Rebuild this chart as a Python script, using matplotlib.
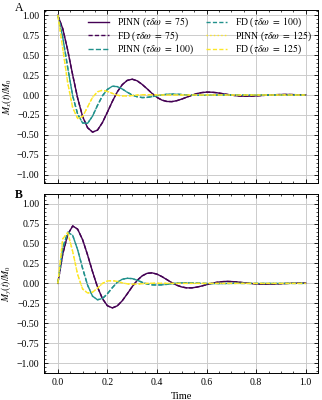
import matplotlib
matplotlib.use("Agg")
import matplotlib.pyplot as plt
from matplotlib.ticker import MultipleLocator

plt.rcParams['font.family'] = ['Liberation Serif', 'DejaVu Serif']
plt.rcParams['mathtext.fontset'] = 'stix'

t = [0.00, 0.02, 0.04, 0.06, 0.08, 0.10, 0.12, 0.14, 0.16, 0.18,
     0.20, 0.22, 0.24, 0.26, 0.28, 0.30, 0.32, 0.34, 0.36, 0.38,
     0.40, 0.42, 0.44, 0.46, 0.48, 0.50, 0.52, 0.54, 0.56, 0.58,
     0.60, 0.62, 0.64, 0.66, 0.68, 0.70, 0.72, 0.74, 0.76, 0.78,
     0.80, 0.82, 0.84, 0.86, 0.88, 0.90, 0.92, 0.94, 0.96, 0.98, 1.00]

# panel A : Mx(t)/M0
mx_75 = [1.000, 0.830, 0.560, 0.250, -0.040, -0.270, -0.410, -0.465, -0.440, -0.345,
         -0.215, -0.080, 0.040, 0.130, 0.183, 0.198, 0.178, 0.133, 0.078, 0.020,
         -0.030, -0.064, -0.081, -0.083, -0.071, -0.051, -0.027, -0.004, 0.017, 0.030,
         0.036, 0.035, 0.029, 0.019, 0.009, -0.001, -0.009, -0.014, -0.015, -0.014,
         -0.011, -0.007, -0.003, 0.001, 0.004, 0.006, 0.007, 0.006, 0.004, 0.003, 0.001]
mx_100 = [1.000, 0.720, 0.340, -0.010, -0.240, -0.350, -0.355, -0.265, -0.130, -0.010,
          0.070, 0.110, 0.105, 0.075, 0.035, 0.000, -0.022, -0.032, -0.030, -0.021,
          -0.009, 0.002, 0.009, 0.011, 0.010, 0.006, 0.002, -0.001, -0.003, -0.003,
          -0.002, -0.001, 0.000, 0.001, 0.001, 0.001, 0.000, 0.000, 0.000, 0.000,
          0.000, 0.000, 0.000, 0.000, 0.000, 0.000, 0.000, 0.000, 0.000, 0.000, 0.000]
mx_125 = [1.000, 0.580, 0.150, -0.160, -0.295, -0.270, -0.150, -0.030, 0.040, 0.060,
          0.045, 0.020, -0.003, -0.012, -0.012, -0.007, -0.001, 0.003, 0.004, 0.003,
          0.001, 0.000, 0.000, 0.000, 0.000, 0.000, 0.000, 0.000, 0.000, 0.000,
          0.000, 0.000, 0.000, 0.000, 0.000, 0.000, 0.000, 0.000, 0.000, 0.000,
          0.000, 0.000, 0.000, 0.000, 0.000, 0.000, 0.000, 0.000, 0.000, 0.000, 0.000]

# panel B : My(t)/M0
my_75 = [0.000, 0.370, 0.613, 0.720, 0.679, 0.547, 0.357, 0.147, -0.045, -0.191,
         -0.280, -0.307, -0.281, -0.217, -0.131, -0.041, 0.037, 0.094, 0.126, 0.132,
         0.116, 0.085, 0.047, 0.009, -0.023, -0.045, -0.056, -0.056, -0.047, -0.033,
         -0.016, 0.000, 0.013, 0.021, 0.025, 0.023, 0.019, 0.012, 0.005, -0.001,
         -0.006, -0.009, -0.010, -0.009, -0.007, -0.004, -0.001, 0.001, 0.003, 0.004, 0.004]
my_100 = [0.000, 0.447, 0.640, 0.602, 0.421, 0.188, -0.021, -0.160, -0.205, -0.190,
          -0.130, -0.053, 0.014, 0.052, 0.064, 0.060, 0.040, 0.014, -0.007, -0.018,
          -0.020, -0.018, -0.012, -0.004, 0.003, 0.007, 0.008, 0.006, 0.004, 0.001,
          -0.001, -0.002, -0.002, -0.002, -0.001, 0.000, 0.001, 0.000, 0.000, 0.000,
          0.000, 0.000, 0.000, 0.000, 0.000, 0.000, 0.000, 0.000, 0.000, 0.000, 0.000]
my_125 = [0.000, 0.560, 0.635, 0.400, 0.110, -0.070, -0.120, -0.110, -0.060, 0.000,
          0.030, 0.035, 0.025, 0.007, -0.005, -0.010, -0.008, -0.004, 0.000, 0.002,
          0.002, 0.001, 0.000, 0.000, 0.000, 0.000, 0.000, 0.000, 0.000, 0.000,
          0.000, 0.000, 0.000, 0.000, 0.000, 0.000, 0.000, 0.000, 0.000, 0.000,
          0.000, 0.000, 0.000, 0.000, 0.000, 0.000, 0.000, 0.000, 0.000, 0.000, 0.000]

# FD solution lies on top of the PINN one
fd_mx_75, fd_mx_100, fd_mx_125 = mx_75, mx_100, mx_125
fd_my_75, fd_my_100, fd_my_125 = my_75, my_100, my_125

taus = [75, 100, 125]
colors = ['#440154', '#21918c', '#fde725']
pinn_styles = ['-', '--', ':']

fig = plt.figure(figsize=(3.22, 4.0), dpi=100)
axA = fig.add_axes([0.138, 0.543, 0.850, 0.432])
axB = fig.add_axes([0.138, 0.068, 0.850, 0.447])

panels = [(axA, [mx_75, mx_100, mx_125], [fd_mx_75, fd_mx_100, fd_mx_125], r'$M_x(t)/M_0$'),
          (axB, [my_75, my_100, my_125], [fd_my_75, fd_my_100, fd_my_125], r'$M_y(t)/M_0$')]

for ax, pinn, fd, ylab in panels:
    for k in range(3):
        ax.plot(t, pinn[k], color=colors[k], ls=pinn_styles[k], lw=1.0,
                label=r'PINN ($\tau\delta\omega\ =\ %d$)' % taus[k])
        ax.plot(t, fd[k], color=colors[k], ls='--', lw=1.0, dashes=(3, 1.6),
                label=r'FD ($\tau\delta\omega\ =\ %d$)' % taus[k])
    ax.set_xlim(-0.054, 1.05)
    ax.set_ylabel(ylab, fontsize=7)
    ax.yaxis.set_label_coords(-0.112, 0.5)
    ax.xaxis.set_major_locator(MultipleLocator(0.2))
    ax.xaxis.set_minor_locator(MultipleLocator(0.05))
    ax.yaxis.set_major_locator(MultipleLocator(0.25))
    ax.yaxis.set_minor_locator(MultipleLocator(0.05))
    ax.tick_params(which='both', direction='in', top=True, right=True, labelsize=7)
    ax.tick_params(which='major', length=3, width=0.6)
    ax.tick_params(which='minor', length=1.5, width=0.5)
    ax.grid(True, color='#cccccc', lw=0.7)
    for s in ax.spines.values():
        s.set_linewidth(0.7)

axA.set_ylim(-1.1, 1.065)
axB.set_ylim(-1.12, 1.12)
axA.tick_params(labelbottom=False)
axB.set_xlabel('Time', fontsize=7.5)

axA.legend(ncol=2, loc='upper right', fontsize=7, frameon=False,
           handlelength=2.2, columnspacing=1.2, labelspacing=0.0,
           borderaxespad=0.2, handletextpad=0.8)

fig.text(0.045, 0.972, 'A', fontsize=8.5)
fig.text(0.045, 0.505, 'B', fontsize=8.5, fontweight='bold')

fig.savefig('out.png', dpi=100)
